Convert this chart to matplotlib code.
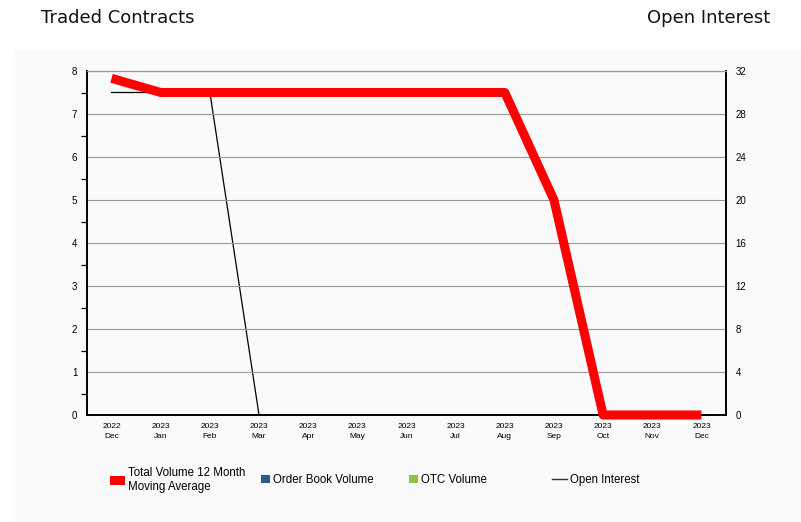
import matplotlib
matplotlib.use('Agg')
import matplotlib.pyplot as plt
from matplotlib.patches import Rectangle
from matplotlib.lines import Line2D
from matplotlib.ticker import MultipleLocator

months = ['Dec', 'Jan', 'Feb', 'Mar', 'Apr', 'May', 'Jun', 'Jul', 'Aug', 'Sep', 'Oct', 'Nov', 'Dec']
years = ['2022'] + ['2023'] * 12
moving_avg = [7.83, 7.5, 7.5, 7.5, 7.5, 7.5, 7.5, 7.5, 7.5, 5.0, 0, 0, 0]
open_interest = [30, 30, 30, 0, 0, 0, 0, 0, 0, 0, 0, 0, 0]

W, H = 801, 522
fig = plt.figure(figsize=(W / 100, H / 100), dpi=100)
fig.patch.set_facecolor('white')

# light panel behind chart and legend
fig.add_artist(Rectangle((13 / W, 0), (W - 13) / W, 1 - 50 / H, transform=fig.transFigure,
                         facecolor='#fafafa', edgecolor='none', zorder=0))

ax = fig.add_axes([87 / W, 1 - 415 / H, (726 - 87) / W, (415 - 71) / H])
ax2 = ax.twinx()

x = list(range(len(months)))
ax2.plot(x, open_interest, color='black', lw=0.9, zorder=3)
ax.plot(x, moving_avg, color='#ff0000', lw=6.5, solid_capstyle='butt', zorder=4, clip_on=False)
ax.set_zorder(ax2.get_zorder() + 1)
ax.patch.set_visible(False)
ax2.patch.set_facecolor('#fafafa')

ax.set_xlim(-0.5, 12.5)
ax.set_ylim(0, 8)
ax2.set_ylim(0, 32)
ax.yaxis.set_major_locator(MultipleLocator(1))
ax.yaxis.set_minor_locator(MultipleLocator(0.5))
ax2.yaxis.set_major_locator(MultipleLocator(4))
ax2.yaxis.set_minor_locator(MultipleLocator(4))

ax.set_xticks(x)
ax.set_xticklabels([f'{y}\n{m}' for y, m in zip(years, months)],
                   fontsize=6, family='Liberation Sans', linespacing=1.55)
ax.tick_params(axis='x', length=0, pad=6)
ax.tick_params(axis='y', which='major', length=0, labelsize=7, pad=7)
ax.tick_params(axis='y', which='minor', length=4, width=0.9, direction='out')
ax2.tick_params(axis='y', which='both', length=0, labelsize=7, pad=7)
for lab in ax.get_yticklabels() + ax2.get_yticklabels():
    lab.set_family('Liberation Sans')

ax.grid(axis='y', which='major', color='#999999', lw=0.8, zorder=1)
ax.set_axisbelow(True)
for a in (ax, ax2):
    a.spines['top'].set_color('#999999')
    a.spines['left'].set_linewidth(1.2)
    a.spines['right'].set_linewidth(1.2)
    a.spines['bottom'].set_linewidth(1.2)

fig.text(41 / W, 1 - 18 / H, 'Traded Contracts', fontsize=13, va='center', ha='left',
         family='DejaVu Sans', color='#111111')
fig.text(770 / W, 1 - 18 / H, 'Open Interest', fontsize=13, va='center', ha='right',
         family='DejaVu Sans', color='#111111')

# legend entries, one per slot
handles = [
    (Rectangle((0, 0), 1, 1, facecolor='#ff0000'), 'Total Volume 12 Month\nMoving Average', 110),
    (Rectangle((0, 0), 1, 1, facecolor='#2f5a8f'), 'Order Book Volume', 261),
    (Rectangle((0, 0), 1, 1, facecolor='#8bc34a'), 'OTC Volume', 409),
    (Line2D([0], [0], color='#333333', lw=1), 'Open Interest', 552),
]
for h, label, px in handles:
    if isinstance(h, Rectangle):
        kw = dict(handlelength=1.3 if 'Total' in label else 0.8, handleheight=0.75)
    else:
        kw = dict(handlelength=1.3)
    fig.legend(handles=[h], labels=[label], loc='center left',
               bbox_to_anchor=(px / W, 1 - 480 / H), frameon=False,
               prop={'family': 'Liberation Sans', 'size': 8.3},
               handletextpad=0.25, borderaxespad=0, borderpad=0, labelspacing=0,
               **kw)

fig.savefig('out.png', dpi=100, facecolor=fig.get_facecolor())
